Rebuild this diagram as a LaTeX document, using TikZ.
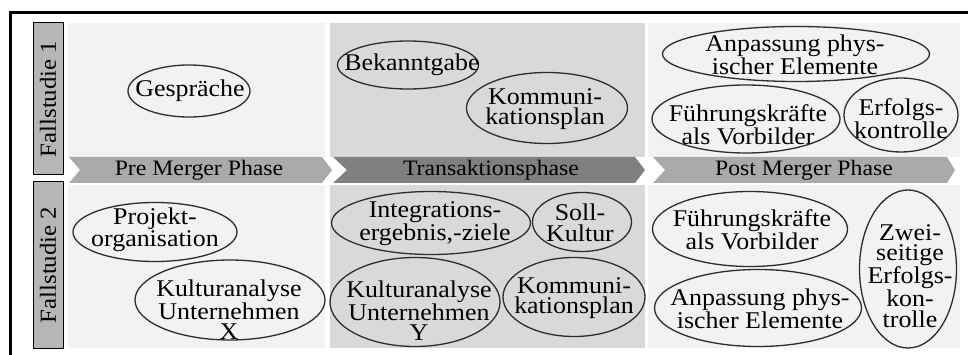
\documentclass[tikz,border=0pt]{standalone}
\usepackage{fontspec}
\setmainfont[FakeStretch=1.08]{Liberation Serif}
\usepackage{tikz}
\usetikzlibrary{shapes}

\definecolor{panellight}{RGB}{242,242,242}
\definecolor{paneldark}{RGB}{217,217,217}
\definecolor{chevlight}{RGB}{170,170,170}
\definecolor{chevdark}{RGB}{128,128,128}
\definecolor{labelgray}{RGB}{182,182,182}
\definecolor{ovalline}{RGB}{45,45,45}

\begin{document}
\begin{tikzpicture}[x=1pt,y=1pt,yscale=-1,xscale=1,
  oval/.style={draw=ovalline,line width=1.3,ellipse,inner sep=0pt},
  ovaltext/.style={inner sep=0pt,align=center,font=\fontsize{24}{20.5}\selectfont},
  chevtext/.style={inner sep=0pt,font=\fontsize{22}{22}\selectfont},
  casebox/.style={draw=black,line width=1,fill=labelgray,inner sep=0pt,
    minimum height=30,rotate=90,font=\fontsize{23}{23}\selectfont}]
\useasboundingbox (0,0) rectangle (968,355);

%Shape: Frame
\draw [line width=3]  (968,13) -- (10,13) -- (10,355) ;

%Shape: Rectangle
\fill [panellight]  (68,23) rectangle (325,157) ;
%Shape: Rectangle
\fill [paneldark]  (330,23) rectangle (645,157) ;
%Shape: Rectangle
\fill [panellight]  (648,23) rectangle (960,157) ;
%Shape: Rectangle
\fill [panellight]  (68,185) rectangle (325,348) ;
%Shape: Rectangle
\fill [paneldark]  (330,185) rectangle (645,348) ;
%Shape: Rectangle
\fill [panellight]  (648,185) rectangle (960,348) ;

%Shape: Chevron
\fill [chevlight]  (69,157) -- (322,157) -- (332,170) -- (322,183) -- (69,183) -- (80,170) -- cycle ;
%Shape: Chevron
\fill [chevdark]  (333,157) -- (635,157) -- (645,170) -- (635,183) -- (333,183) -- (347,170) -- cycle ;
%Shape: Chevron
\fill [chevlight]  (653,157) -- (947,157) -- (955,170) -- (947,183) -- (653,183) -- (665,170) -- cycle ;

% Text Node
\node [chevtext] (pre) at (199,170) {Pre Merger Phase};
% Text Node
\node [chevtext] (trans) at (491,170) {Transaktionsphase};
% Text Node
\node [chevtext] (post) at (804,170) {Post Merger Phase};

% Text Node
\node [casebox,minimum width=152] (fall1) at (48,99) {Fallstudie 1};
% Text Node
\node [casebox,minimum width=166] (fall2) at (48,265) {Fallstudie 2};

%Shape: Ellipse
\node [oval,minimum width=122,minimum height=52] (gespr) at (189,91) {};
\node [ovaltext] (gespr-t) at (190,91) {Gespräche};
%Shape: Ellipse
\node [oval,minimum width=141,minimum height=48] (bekannt) at (408,65) {};
\node [ovaltext] (bekannt-t) at (412,65) {Bekanntgabe};
%Shape: Ellipse
\node [oval,minimum width=161,minimum height=71] (komm1) at (547,108) {};
\node [ovaltext] (komm1-t) at (545,109) {Kommuni-\\kationsplan};
%Shape: Ellipse
\node [oval,minimum width=267,minimum height=55] (anpass1) at (796,54) {};
\node [ovaltext] (anpass1-t) at (795,55) {Anpassung phys-\\ischer Elemente};
%Shape: Ellipse
\node [oval,minimum width=188,minimum height=68] (fuehr1) at (746,119) {};
\node [ovaltext] (fuehr1-t) at (748,125) {Führungskräfte\\als Vorbilder};
%Shape: Ellipse
\node [oval,minimum width=114,minimum height=74] (erfolg1) at (901,115) {};
\node [ovaltext] (erfolg1-t) at (901,119) {Erfolgs-\\kontrolle};

%Shape: Ellipse
\node [oval,minimum width=164,minimum height=59] (projekt) at (155,232) {};
\node [ovaltext] (projekt-t) at (155,230) {Projekt-\\organisation};
%Shape: Ellipse
\node [oval,minimum width=190,minimum height=80] (kulturx) at (230,300) {};
\node [ovaltext] (kulturx-t) at (229,310) {Kulturanalyse\\Unternehmen\\X};
%Shape: Ellipse
\node [oval,minimum width=199,minimum height=63] (integr) at (431,223) {};
\node [ovaltext] (integr-t) at (435,224) {Integrations-\\ergebnis,-ziele};
%Shape: Ellipse
\node [oval,minimum width=99,minimum height=59] (soll) at (582,222) {};
\node [ovaltext] (soll-t) at (580,223) {Soll-\\Kultur};
%Shape: Ellipse
\node [oval,minimum width=170,minimum height=89] (kultury) at (415,302) {};
\node [ovaltext] (kultury-t) at (419,311) {Kulturanalyse\\Unternehmen\\Y};
%Shape: Ellipse
\node [oval,minimum width=142,minimum height=79] (komm2) at (574,297) {};
\node [ovaltext] (komm2-t) at (574,298) {Kommuni-\\kationsplan};
%Shape: Ellipse
\node [oval,minimum width=195,minimum height=75] (fuehr2) at (750,229) {};
\node [ovaltext] (fuehr2-t) at (752,230) {Führungskräfte\\als Vorbilder};
%Shape: Ellipse
\node [oval,minimum width=207,minimum height=77] (anpass2) at (758,308) {};
\node [ovaltext] (anpass2-t) at (760,309) {Anpassung phys-\\ischer Elemente};
%Shape: Ellipse
\node [oval,minimum width=97,minimum height=158] (erfolg2) at (908,269) {};
\node [ovaltext] (erfolg2-t) at (910,276) {Zwei-\\seitige\\Erfolgs-\\kon-\\trolle};

\end{tikzpicture}
\end{document}
